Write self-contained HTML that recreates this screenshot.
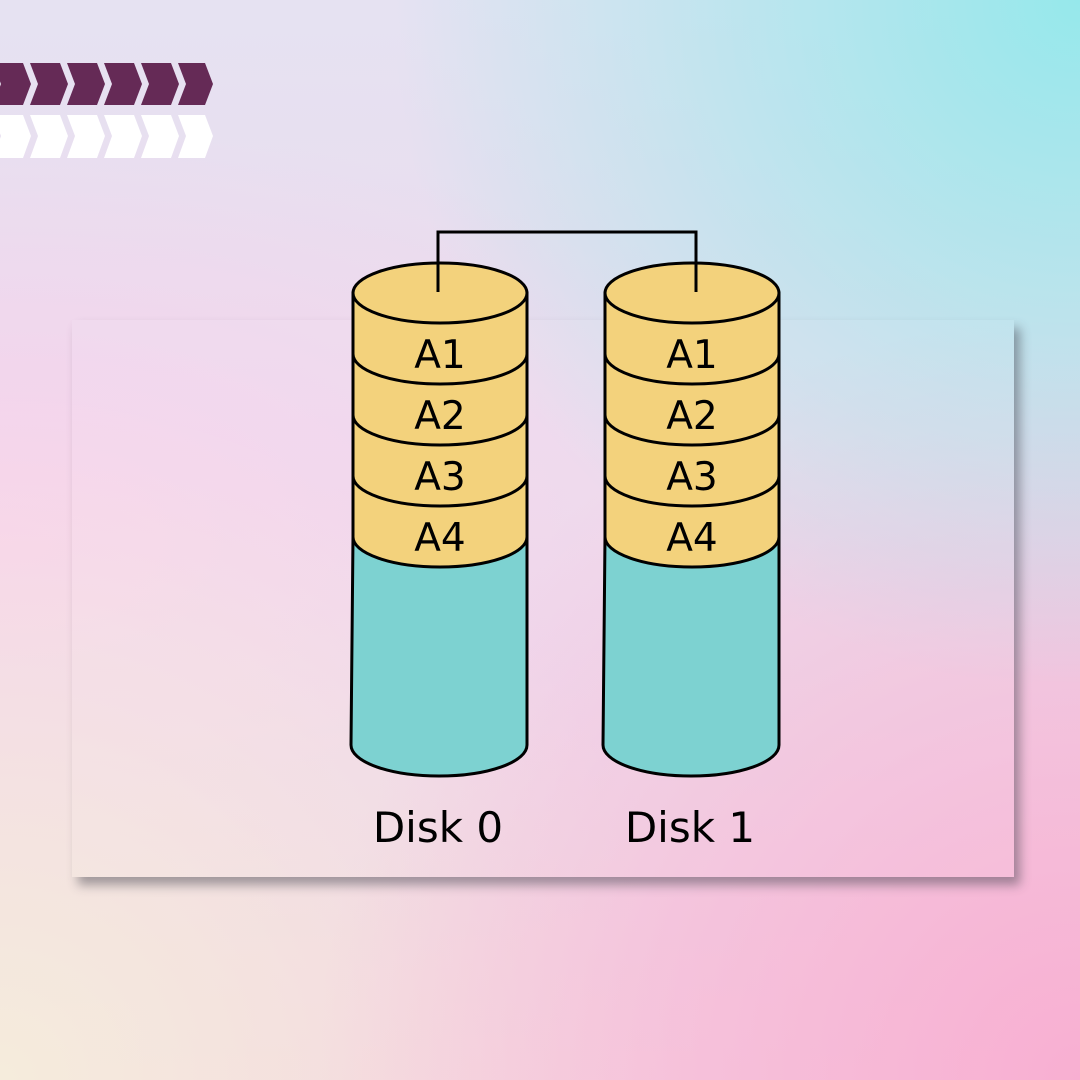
<!DOCTYPE html>
<html><head><style>
html,body{margin:0;padding:0;}
body{width:1080px;height:1080px;position:relative;overflow:hidden;
background:
radial-gradient(ellipse at 100% 0%, rgba(150,232,235,1) 0%, rgba(150,232,235,0) 45%),
radial-gradient(ellipse at 100% 100%, rgba(248,175,210,1) 0%, rgba(248,175,210,0) 50%),
radial-gradient(ellipse at 0% 100%, rgba(245,236,220,1) 0%, rgba(245,236,220,0) 45%),
radial-gradient(ellipse at 0% 50%, rgba(248,210,236,1) 0%, rgba(248,210,236,0) 55%),
linear-gradient(180deg,#e6e2f2 0%,#ecd8ea 60%,#f4d2e2 100%);}
.panel{position:absolute;left:72px;top:320px;width:942px;height:557px;background:rgba(255,255,255,0.06);box-shadow:6px 8px 10px rgba(60,60,70,0.45);}
svg{position:absolute;left:0;top:0;}
</style></head><body>
<div class="panel"></div>
<svg width="1080" height="1080" viewBox="0 0 1080 1080" font-family="DejaVu Sans, Liberation Sans, sans-serif">
<g fill="#652a56">
<polygon points="-7,63 23,63 31,84 23,105 -7,105 1,84"/>
<polygon points="30,63 60,63 68,84 60,105 30,105 38,84"/>
<polygon points="67,63 97,63 105,84 97,105 67,105 75,84"/>
<polygon points="104,63 134,63 142,84 134,105 104,105 112,84"/>
<polygon points="141,63 171,63 179,84 171,105 141,105 149,84"/>
<polygon points="178,63 205,63 213,84 205,105 178,105 186,84"/>
</g>
<g fill="#ffffff">
<polygon points="-7,115 23,115 31,136 23,158 -7,158 1,136"/>
<polygon points="30,115 60,115 68,136 60,158 30,158 38,136"/>
<polygon points="67,115 97,115 105,136 97,158 67,158 75,136"/>
<polygon points="104,115 134,115 142,136 134,158 104,158 112,136"/>
<polygon points="141,115 171,115 179,136 171,158 141,158 149,136"/>
<polygon points="178,115 205,115 213,136 205,158 178,158 186,136"/>
</g>
<polyline points="438,292 438,232 696,232 696,292" fill="none" stroke="#000" stroke-width="3"/>
<g stroke="#000" stroke-width="3">
<path d="M353,537 L351,745 A88,31 0 0 0 527,745 L527,537 Z" fill="#7dd2d1"/>
<path d="M353,293 L353,537 A87,30 0 0 0 527,537 L527,293 Z" fill="#f3d27c"/>
<path d="M353,354 A87,30 0 0 0 527,354 M353,415 A87,30 0 0 0 527,415 M353,476 A87,30 0 0 0 527,476" fill="none"/>
<ellipse cx="440" cy="293" rx="87" ry="30" fill="#f3d27c"/>
<path d="M605,537 L603,745 A88,31 0 0 0 779,745 L779,537 Z" fill="#7dd2d1"/>
<path d="M605,293 L605,537 A87,30 0 0 0 779,537 L779,293 Z" fill="#f3d27c"/>
<path d="M605,354 A87,30 0 0 0 779,354 M605,415 A87,30 0 0 0 779,415 M605,476 A87,30 0 0 0 779,476" fill="none"/>
<ellipse cx="692" cy="293" rx="87" ry="30" fill="#f3d27c"/>
<line x1="438" y1="263" x2="438" y2="292"/>
<line x1="696" y1="263" x2="696" y2="292"/>
</g>
<g font-size="39" text-anchor="middle" fill="#000">
<text x="440" y="368">A1</text><text x="440" y="429">A2</text><text x="440" y="490">A3</text><text x="440" y="551">A4</text>
<text x="692" y="368">A1</text><text x="692" y="429">A2</text><text x="692" y="490">A3</text><text x="692" y="551">A4</text>
<text x="438" y="842" font-size="42">Disk 0</text><text x="690" y="842" font-size="42">Disk 1</text>
</g>
</svg>
</body></html>
